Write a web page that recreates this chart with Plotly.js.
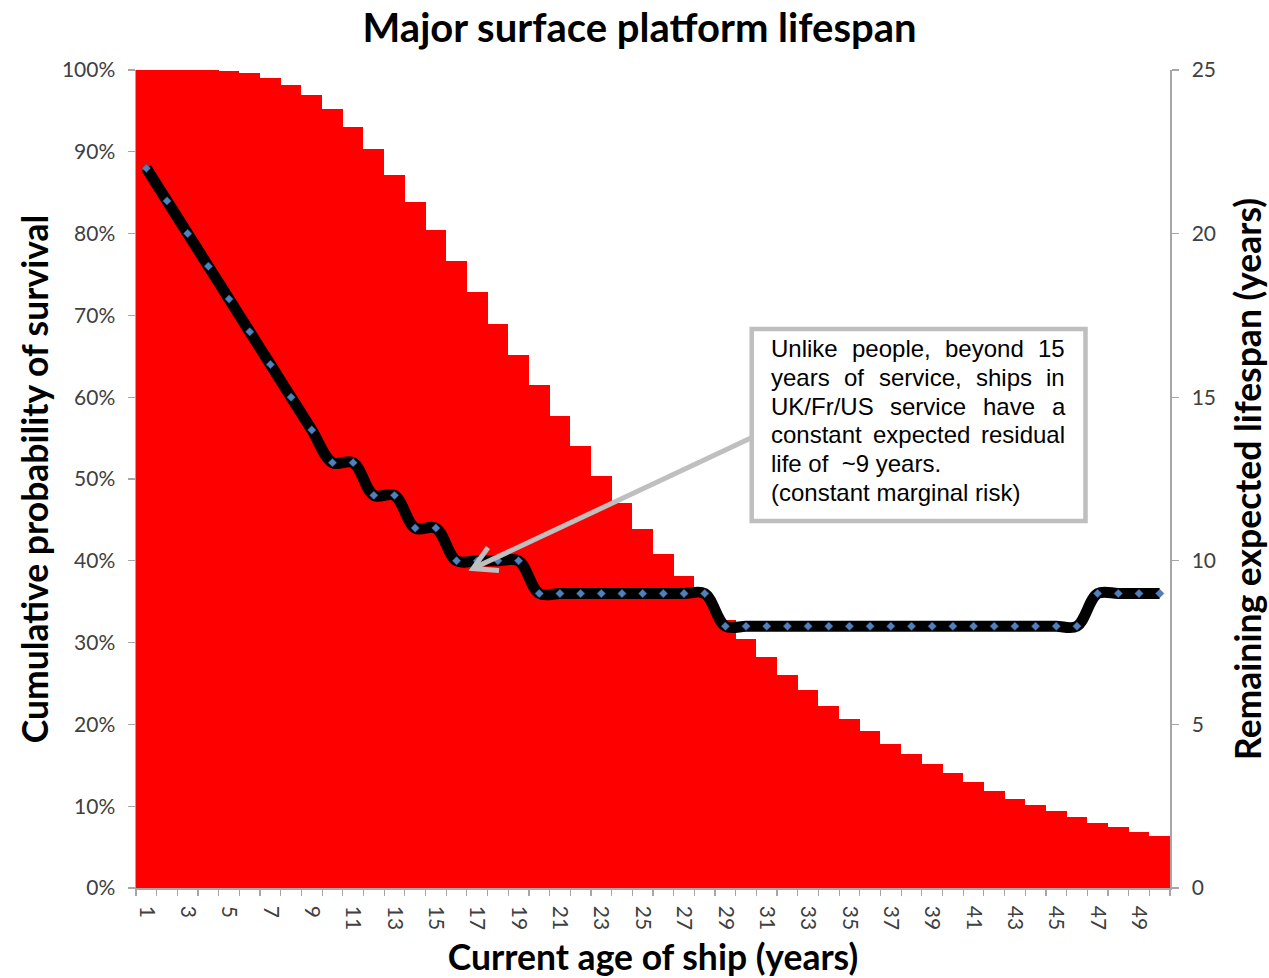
<!DOCTYPE html>
<html>
<head>
<meta charset="utf-8">
<script src="https://cdn.plot.ly/plotly-3.0.1.min.js"></script>
<style>html,body{margin:0;padding:0;background:#fff;}#chart{width:1269px;height:978px;}</style>
</head>
<body>
<div id="chart"></div>
<script>
const ages = [1,2,3,4,5,6,7,8,9,10,11,12,13,14,15,16,17,18,19,20,21,22,23,24,25,26,27,28,29,30,31,32,33,34,35,36,37,38,39,40,41,42,43,44,45,46,47,48,49,50];
const survival = [1.000,1.000,1.000,1.000,0.999,0.996,0.990,0.982,0.969,0.952,0.930,0.903,0.872,0.839,0.804,0.767,0.729,0.690,0.652,0.615,0.577,0.540,0.504,0.471,0.439,0.408,0.381,0.354,0.328,0.304,0.282,0.261,0.242,0.223,0.207,0.192,0.176,0.164,0.152,0.140,0.129,0.119,0.109,0.101,0.094,0.087,0.080,0.075,0.069,0.064];
const residualLife = [22,21,20,19,18,17,16,15,14,13,13,12,12,11,11,10,10,10,10,9,9,9,9,9,9,9,9,9,8,8,8,8,8,8,8,8,8,8,8,8,8,8,8,8,8,8,9,9,9,9];
const xTickVals = [1,3,5,7,9,11,13,15,17,19,21,23,25,27,29,31,33,35,37,39,41,43,45,47,49];
const xTickText = ["1","3","5","7","9","11","13","15","17","19","21","23","25","27","29","31","33","35","37","39","41","43","45","47","49"];
const noteLines = ["Unlike people, beyond 15","years of service, ships in","UK/Fr/US service have a","constant expected residual","life of  ~9 years.","(constant marginal risk)"];
const noteJustify = [true,true,true,true,false,false];

const L=136,R=1170,T=70,B=888;
const fx = p => (p-L)/(R-L);
const fy = p => (B-p)/(B-T);

const grey = '#A6A6A6';
const tickFont = {family:'Lato, sans-serif', size:21, color:'#404040'};
const titleFont = {family:'Lato, sans-serif', size:35.5, color:'#000', weight:'bold'};

const traces = [
  {type:'bar', x:ages, y:survival, marker:{color:'#FF0000', line:{width:0}}, width:1, hoverinfo:'skip', showlegend:false},
  {type:'scatter', mode:'lines+markers', x:ages, y:residualLife, yaxis:'y2',
   line:{color:'#000', width:11, shape:'spline', smoothing:1},
   marker:{symbol:'diamond', size:6.5, color:'#4F81BD', line:{width:0.5, color:'#2F4F7F'}},
   hoverinfo:'skip', showlegend:false}
];

// Note text, justified by word placement
const noteFontSize = 24;
const ctx = document.createElement('canvas').getContext('2d');
ctx.font = noteFontSize + "px 'Liberation Sans'";
const baselines = [357,385.7,414.4,443.1,471.8,500.5];
const tx0 = 771, tx1 = 1065;
const annotations = [];
noteLines.forEach((line, i) => {
  const yc = baselines[i] - 8.3;
  const base = {xref:'paper', yref:'paper', y:fy(yc), yanchor:'middle', xanchor:'left', showarrow:false,
    font:{family:"'Liberation Sans', Arial, sans-serif", size:noteFontSize, color:'#000'}, borderpad:0, borderwidth:0};
  if (noteJustify[i]) {
    const words = line.split(' ');
    const widths = words.map(w => ctx.measureText(w).width);
    const total = widths.reduce((a,b)=>a+b,0);
    const gap = (tx1 - tx0 - total) / (words.length - 1);
    let x = tx0;
    words.forEach((w, k) => {
      annotations.push(Object.assign({}, base, {x:fx(x), text:w, font:Object.assign({}, base.font)}));
      x += widths[k] + gap;
    });
  } else {
    annotations.push(Object.assign({}, base, {x:fx(tx0), text:line.replace('  ', ' \u00A0')}));
  }
});

// arrow (tail at box edge, tip near curve)
const tip = [473, 568.5], tail = [752, 437.5];
const armA = [499, 570.5], armB = [488, 547.5];
const shapes = [
  {type:'line', xref:'paper', yref:'paper', x0:fx(tail[0]), y0:fy(tail[1]), x1:fx(tip[0]+3), y1:fy(tip[1]-1.4), line:{color:'#BFBFBF', width:5}, layer:'above'},
  {type:'path', xref:'paper', yref:'paper', path:`M ${fx(armA[0])} ${fy(armA[1])} L ${fx(tip[0])} ${fy(tip[1])} L ${fx(armB[0])} ${fy(armB[1])}`, line:{color:'#BFBFBF', width:5}, layer:'above'},
  {type:'rect', xref:'paper', yref:'paper', x0:fx(751.7), x1:fx(1085.5), y0:fy(521), y1:fy(329), line:{color:'#BFBFBF', width:4.5}, fillcolor:'#FFFFFF', layer:'above'}
];

const layout = {
  width:1269, height:978,
  margin:{l:L, r:1269-R, t:T, b:978-B, pad:0},
  paper_bgcolor:'#fff', plot_bgcolor:'#fff',
  bargap:0,
  title:{text:'Major surface platform lifespan', x:0.504, xref:'container', xanchor:'center', y:1-28/978, yref:'container', yanchor:'middle',
    font:{family:'Lato, sans-serif', size:40, color:'#000', weight:'bold'}},
  xaxis:{type:'linear', range:[0.5,50.5], tickmode:'array', tickvals:xTickVals, ticktext:xTickText, tickangle:90,
    ticks:'', ticklabelstandoff:12, tickfont:tickFont, showgrid:false, zeroline:false, showline:true, linecolor:grey, linewidth:1.5,
    minor:{tick0:0.5, dtick:1, ticks:'outside', ticklen:6, tickcolor:grey, tickwidth:1.2, showgrid:false},
    title:{text:'Current age of ship (years)', font:titleFont, standoff:24}},
  yaxis:{range:[0,1], dtick:0.1, tickformat:'.0%', ticks:'outside', ticklen:7, tickcolor:grey, tickwidth:1.2, ticklabelstandoff:8,
    tickfont:tickFont, showgrid:false, zeroline:false, showline:true, linecolor:grey, linewidth:1.5,
    title:{text:'Cumulative probability of survival', font:titleFont, standoff:2}},
  yaxis2:{range:[0,25], dtick:5, overlaying:'y', side:'right', ticks:'outside', ticklen:7, tickcolor:grey, tickwidth:1.2, ticklabelstandoff:9,
    tickfont:tickFont, showgrid:false, zeroline:false, showline:true, linecolor:grey, linewidth:1.5,
    title:{text:'Remaining expected lifespan (years)', font:titleFont, standoff:22}},
  shapes:shapes,
  annotations:annotations
};

Plotly.newPlot('chart', traces, layout, {staticPlot:true, displayModeBar:false});
</script>
</body>
</html>
